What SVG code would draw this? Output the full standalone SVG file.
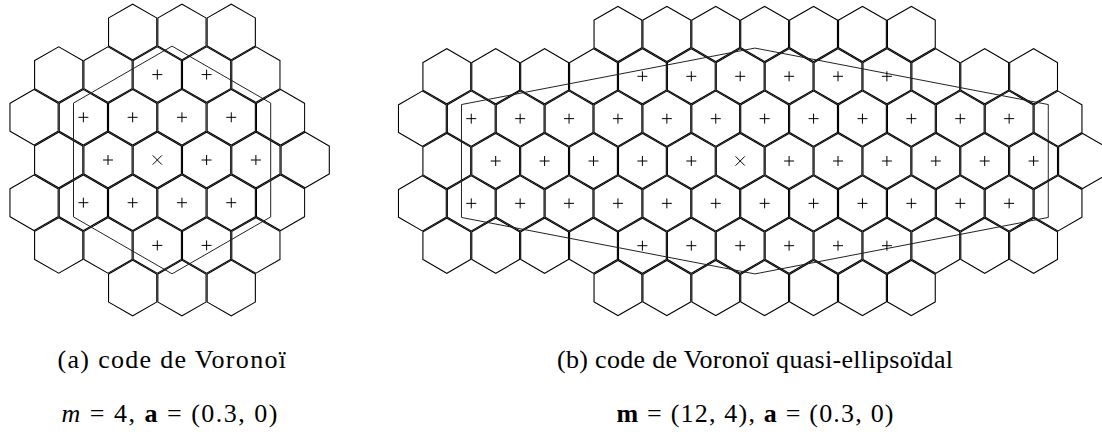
<svg xmlns="http://www.w3.org/2000/svg" xmlns:xlink="http://www.w3.org/1999/xlink" width="1102" height="436" viewBox="0 0 1102 436">
<style>
.hx{fill:none;stroke:#000;stroke-width:2.2}
.bd{fill:none;stroke:#222;stroke-width:1}
.mk{fill:none;stroke:#000;stroke-width:1}
.cap{font-family:"Liberation Serif","DejaVu Serif",serif;font-size:26px;fill:#000}
</style>
<defs>
<path id="hL" d="M0,-28.46L24.65,-14.23L24.65,14.23L0,28.46L-24.65,14.23L-24.65,-14.23Z"/>
<path id="hR" d="M0,-28.23L24.45,-14.12L24.45,14.12L0,28.23L-24.45,14.12L-24.45,-14.12Z"/>
<clipPath id="cL"><use href="#hL"/></clipPath>
<clipPath id="cR"><use href="#hR"/></clipPath>
<g id="cellL"><use href="#hL" class="hx" clip-path="url(#cL)"/></g>
<g id="cellR"><use href="#hR" class="hx" clip-path="url(#cR)"/></g>
<path id="plus" class="mk" d="M-5,0H5M0,-5V5"/>
<path id="cross" class="mk" d="M-4.6,-4.6L4.6,4.6M4.6,-4.6L-4.6,4.6"/>
</defs>
<rect width="1102" height="436" fill="#fff"/>

<g id="figA">
<g id="cellsA">
<g transform="translate(0,31.9)"><use href="#cellL" x="132.65"/><use href="#cellL" x="181.95"/><use href="#cellL" x="231.25"/></g>
<g transform="translate(0,74.6)"><use href="#cellL" x="58.7"/><use href="#cellL" x="108"/><use href="#cellL" x="157.3"/><use href="#cellL" x="206.6"/><use href="#cellL" x="255.9"/></g>
<g transform="translate(0,117.3)"><use href="#cellL" x="34.05"/><use href="#cellL" x="83.35"/><use href="#cellL" x="132.65"/><use href="#cellL" x="181.95"/><use href="#cellL" x="231.25"/><use href="#cellL" x="280.55"/></g>
<g transform="translate(0,160)"><use href="#cellL" x="58.7"/><use href="#cellL" x="108"/><use href="#cellL" x="157.3"/><use href="#cellL" x="206.6"/><use href="#cellL" x="255.9"/><use href="#cellL" x="305.2"/></g>
<g transform="translate(0,202.7)"><use href="#cellL" x="34.05"/><use href="#cellL" x="83.35"/><use href="#cellL" x="132.65"/><use href="#cellL" x="181.95"/><use href="#cellL" x="231.25"/><use href="#cellL" x="280.55"/></g>
<g transform="translate(0,245.4)"><use href="#cellL" x="58.7"/><use href="#cellL" x="108"/><use href="#cellL" x="157.3"/><use href="#cellL" x="206.6"/><use href="#cellL" x="255.9"/></g>
<g transform="translate(0,288.1)"><use href="#cellL" x="132.65"/><use href="#cellL" x="181.95"/><use href="#cellL" x="231.25"/></g>
</g>
<polygon id="boundA" class="bd" points="172.09,46.16 270.69,103.08 270.69,216.92 172.09,273.84 73.49,216.92 73.49,103.08"/>
<g id="pointsA">
<g transform="translate(0,74.6)"><use href="#plus" x="157.3"/><use href="#plus" x="206.6"/></g>
<g transform="translate(0,117.3)"><use href="#plus" x="83.35"/><use href="#plus" x="132.65"/><use href="#plus" x="181.95"/><use href="#plus" x="231.25"/></g>
<g transform="translate(0,160)"><use href="#plus" x="108"/><use href="#cross" x="157.3"/><use href="#plus" x="206.6"/><use href="#plus" x="255.9"/></g>
<g transform="translate(0,202.7)"><use href="#plus" x="83.35"/><use href="#plus" x="132.65"/><use href="#plus" x="181.95"/><use href="#plus" x="231.25"/></g>
<g transform="translate(0,245.4)"><use href="#plus" x="157.3"/><use href="#plus" x="206.6"/></g>
</g>
<text class="cap" x="57.5" y="368" textLength="228.5" lengthAdjust="spacing">(a) code de Voronoï</text>
<text class="cap" x="61.5" y="421.5" textLength="216" lengthAdjust="spacing"><tspan font-style="italic">m</tspan> = 4, <tspan font-weight="bold">a</tspan> = (0.3, 0)</text>
</g>

<g id="figB">
<g id="cellsB">
<g transform="translate(0,33.95)"><use href="#cellR" x="617.95"/><use href="#cellR" x="666.85"/><use href="#cellR" x="715.75"/><use href="#cellR" x="764.65"/><use href="#cellR" x="813.55"/><use href="#cellR" x="862.45"/><use href="#cellR" x="911.35"/></g>
<g transform="translate(0,76.3)"><use href="#cellR" x="446.8"/><use href="#cellR" x="495.7"/><use href="#cellR" x="544.6"/><use href="#cellR" x="593.5"/><use href="#cellR" x="642.4"/><use href="#cellR" x="691.3"/><use href="#cellR" x="740.2"/><use href="#cellR" x="789.1"/><use href="#cellR" x="838"/><use href="#cellR" x="886.9"/><use href="#cellR" x="935.8"/><use href="#cellR" x="984.7"/><use href="#cellR" x="1033.6"/></g>
<g transform="translate(0,118.65)"><use href="#cellR" x="422.35"/><use href="#cellR" x="471.25"/><use href="#cellR" x="520.15"/><use href="#cellR" x="569.05"/><use href="#cellR" x="617.95"/><use href="#cellR" x="666.85"/><use href="#cellR" x="715.75"/><use href="#cellR" x="764.65"/><use href="#cellR" x="813.55"/><use href="#cellR" x="862.45"/><use href="#cellR" x="911.35"/><use href="#cellR" x="960.25"/><use href="#cellR" x="1009.15"/><use href="#cellR" x="1058.05"/></g>
<g transform="translate(0,161)"><use href="#cellR" x="446.8"/><use href="#cellR" x="495.7"/><use href="#cellR" x="544.6"/><use href="#cellR" x="593.5"/><use href="#cellR" x="642.4"/><use href="#cellR" x="691.3"/><use href="#cellR" x="740.2"/><use href="#cellR" x="789.1"/><use href="#cellR" x="838"/><use href="#cellR" x="886.9"/><use href="#cellR" x="935.8"/><use href="#cellR" x="984.7"/><use href="#cellR" x="1033.6"/><use href="#cellR" x="1082.5"/></g>
<g transform="translate(0,203.35)"><use href="#cellR" x="422.35"/><use href="#cellR" x="471.25"/><use href="#cellR" x="520.15"/><use href="#cellR" x="569.05"/><use href="#cellR" x="617.95"/><use href="#cellR" x="666.85"/><use href="#cellR" x="715.75"/><use href="#cellR" x="764.65"/><use href="#cellR" x="813.55"/><use href="#cellR" x="862.45"/><use href="#cellR" x="911.35"/><use href="#cellR" x="960.25"/><use href="#cellR" x="1009.15"/><use href="#cellR" x="1058.05"/></g>
<g transform="translate(0,245.7)"><use href="#cellR" x="446.8"/><use href="#cellR" x="495.7"/><use href="#cellR" x="544.6"/><use href="#cellR" x="593.5"/><use href="#cellR" x="642.4"/><use href="#cellR" x="691.3"/><use href="#cellR" x="740.2"/><use href="#cellR" x="789.1"/><use href="#cellR" x="838"/><use href="#cellR" x="886.9"/><use href="#cellR" x="935.8"/><use href="#cellR" x="984.7"/><use href="#cellR" x="1033.6"/></g>
<g transform="translate(0,288.05)"><use href="#cellR" x="617.95"/><use href="#cellR" x="666.85"/><use href="#cellR" x="715.75"/><use href="#cellR" x="764.65"/><use href="#cellR" x="813.55"/><use href="#cellR" x="862.45"/><use href="#cellR" x="911.35"/></g>
</g>
<polygon id="boundB" class="bd" points="754.87,48.08 1048.27,104.54 1048.27,217.46 754.87,273.92 461.47,217.46 461.47,104.54"/>
<g id="pointsB">
<g transform="translate(0,76.3)"><use href="#plus" x="642.4"/><use href="#plus" x="691.3"/><use href="#plus" x="740.2"/><use href="#plus" x="789.1"/><use href="#plus" x="838"/><use href="#plus" x="886.9"/></g>
<g transform="translate(0,118.65)"><use href="#plus" x="471.25"/><use href="#plus" x="520.15"/><use href="#plus" x="569.05"/><use href="#plus" x="617.95"/><use href="#plus" x="666.85"/><use href="#plus" x="715.75"/><use href="#plus" x="764.65"/><use href="#plus" x="813.55"/><use href="#plus" x="862.45"/><use href="#plus" x="911.35"/><use href="#plus" x="960.25"/><use href="#plus" x="1009.15"/></g>
<g transform="translate(0,161)"><use href="#plus" x="495.7"/><use href="#plus" x="544.6"/><use href="#plus" x="593.5"/><use href="#plus" x="642.4"/><use href="#plus" x="691.3"/><use href="#cross" x="740.2"/><use href="#plus" x="789.1"/><use href="#plus" x="838"/><use href="#plus" x="886.9"/><use href="#plus" x="935.8"/><use href="#plus" x="984.7"/><use href="#plus" x="1033.6"/></g>
<g transform="translate(0,203.35)"><use href="#plus" x="471.25"/><use href="#plus" x="520.15"/><use href="#plus" x="569.05"/><use href="#plus" x="617.95"/><use href="#plus" x="666.85"/><use href="#plus" x="715.75"/><use href="#plus" x="764.65"/><use href="#plus" x="813.55"/><use href="#plus" x="862.45"/><use href="#plus" x="911.35"/><use href="#plus" x="960.25"/><use href="#plus" x="1009.15"/></g>
<g transform="translate(0,245.7)"><use href="#plus" x="642.4"/><use href="#plus" x="691.3"/><use href="#plus" x="740.2"/><use href="#plus" x="789.1"/><use href="#plus" x="838"/><use href="#plus" x="886.9"/></g>
</g>
<text class="cap" x="557" y="368" textLength="396" lengthAdjust="spacing">(b) code de Voronoï quasi-ellipsoïdal</text>
<text class="cap" x="616.5" y="421.5" textLength="277" lengthAdjust="spacing"><tspan font-weight="bold">m</tspan> = (12, 4), <tspan font-weight="bold">a</tspan> = (0.3, 0)</text>
</g>
</svg>
